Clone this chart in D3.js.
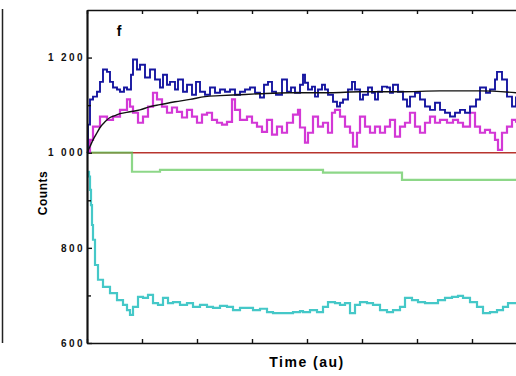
<!DOCTYPE html>
<html><head><meta charset="utf-8">
<script src="https://cdn.jsdelivr.net/npm/d3@7"></script>
<style>
body{margin:0;background:#fff;}
svg{display:block;}
text{font-family:"Liberation Sans",Arial,sans-serif;}
</style></head>
<body>
<svg id="c" width="516" height="376"></svg>
<script>
// ---- data (time in au, counts) ----
const yTickValues = [600, 800, 1000, 1200];
const yTickLabels = ["600", "800", "1 000", "1 200"];
const yMinorTicks = [700, 900, 1100];
const xTickValues = [0, 55, 110, 165, 220, 275, 330, 385, 440];

const redT = [0, 429];
const redV = [1000, 1000];

const greenT = [0, 45, 73, 236, 315, 429];
const greenV = [1000, 960, 964, 958, 943, 943];

const blackT = [0,3,6,10,13,18,23,28,33,43,53,63,73,88,103,118,133,153,173,203,243,273,313,353,393,429];
const blackV = [1000,1013,1027,1042,1053,1065,1074,1078,1082,1086,1090,1097,1101,1107,1112,1118,1120,1122,1124,1126,1126,1128,1128,1130,1130,1126];

const blueT = [0,1,3,6,10,13,16,20,23,26,30,33,37,40,44,46,50,53,58,63,68,73,76,80,83,88,91,96,100,105,109,113,118,123,128,133,138,143,148,153,158,163,168,173,177,181,185,189,195,200,204,208,213,216,218,221,225,228,231,235,238,241,246,250,253,256,261,265,268,273,276,281,285,288,291,295,300,303,306,311,316,320,323,328,333,338,343,348,353,358,363,368,373,378,383,389,393,399,403,408,410,415,420,425,429];
const blueV = [1000,1059,1112,1118,1128,1149,1175,1170,1149,1137,1133,1128,1137,1133,1164,1196,1175,1185,1158,1175,1154,1137,1164,1143,1149,1133,1154,1128,1143,1122,1149,1128,1122,1137,1126,1133,1128,1133,1122,1128,1133,1137,1126,1116,1143,1149,1128,1122,1154,1128,1137,1126,1143,1164,1147,1133,1139,1118,1133,1143,1133,1122,1107,1097,1105,1112,1133,1149,1133,1112,1122,1137,1126,1112,1128,1139,1137,1126,1143,1128,1112,1097,1118,1126,1112,1097,1090,1105,1090,1084,1076,1084,1090,1084,1097,1112,1137,1126,1133,1154,1170,1154,1118,1097,1118];

const magentaT = [0,3,6,13,20,26,33,40,43,46,51,56,61,66,70,75,80,85,90,95,100,105,110,115,120,125,130,135,140,145,148,153,160,165,170,175,180,185,190,195,200,206,211,213,218,221,226,231,236,241,245,248,253,258,263,266,270,273,278,283,288,293,298,303,308,313,318,323,328,333,338,343,348,353,360,366,371,376,383,388,393,398,403,408,411,415,420,425,429];
const magentaV = [1000,1027,1055,1076,1069,1076,1090,1112,1097,1084,1063,1076,1097,1126,1112,1097,1084,1095,1086,1074,1090,1076,1063,1080,1084,1069,1063,1059,1065,1112,1090,1069,1076,1063,1055,1044,1069,1038,1055,1042,1063,1080,1090,1053,1021,1042,1076,1055,1063,1042,1084,1090,1076,1055,1042,1013,1042,1076,1055,1042,1055,1042,1055,1069,1034,1055,1063,1084,1055,1042,1063,1076,1063,1069,1063,1069,1063,1055,1084,1055,1042,1048,1042,1027,1006,1042,1055,1069,1063];

const cyanT = [1,2,3,4,5,6,8,11,16,23,30,36,40,43,46,51,56,61,66,71,76,81,86,93,100,106,113,120,126,133,140,146,153,160,166,173,180,186,193,200,206,213,216,223,230,236,241,248,253,258,263,268,273,280,286,293,300,306,313,318,325,331,338,345,351,358,365,371,376,383,390,396,403,410,416,421,429];
const cyanV = [960,950,922,890,848,817,764,733,718,705,690,680,669,659,676,697,695,701,684,680,695,684,686,680,684,676,680,676,674,678,676,669,674,674,669,672,665,663,663,663,665,667,665,669,665,676,686,684,680,684,663,680,686,684,680,669,665,669,676,695,690,686,684,684,690,695,697,699,695,686,676,663,665,669,676,684,684];

// ---- chart ----
const svg = d3.select("#c");
const x = d3.scaleLinear().domain([0, 440]).range([87, 527]);
const y = d3.scaleLinear().domain([600, 1300]).range([343, 10]);

// partial left neighbouring panel edge
svg.append("line").attr("x1", 2.5).attr("x2", 2.5).attr("y1", y(1302)).attr("y2", y(600))
  .attr("stroke", "#222").attr("stroke-width", 1.5);

const step = d3.line().x(d => x(d[0])).y(d => y(d[1])).curve(d3.curveStepAfter);
const smooth = d3.line().x(d => x(d[0])).y(d => y(d[1])).curve(d3.curveMonotoneX);
const zip = (T, V) => T.map((t, i) => [t, V[i]]);

const plot = svg.append("g");
plot.append("path").attr("d", step(zip(redT, redV))).attr("fill", "none")
  .attr("stroke", "#b8352e").attr("stroke-width", 1.6);
plot.append("path").attr("d", step(zip(greenT, greenV))).attr("fill", "none")
  .attr("stroke", "#5cc655").attr("stroke-width", 2.2).attr("stroke-opacity", 0.7);
plot.append("path").attr("d", step(zip(cyanT, cyanV))).attr("fill", "none")
  .attr("stroke", "#45c8c8").attr("stroke-width", 2.2);
plot.append("path").attr("d", step(zip(magentaT, magentaV))).attr("fill", "none")
  .attr("stroke", "#d338d6").attr("stroke-width", 2.2);
plot.append("path").attr("d", step(zip(blueT, blueV))).attr("fill", "none")
  .attr("stroke", "#1616a0").attr("stroke-width", 1.9);
plot.append("path").attr("d", smooth(zip(blackT, blackV))).attr("fill", "none")
  .attr("stroke", "#111").attr("stroke-width", 1.4);

// axes
const styleAxis = g => {
  g.select(".domain").attr("stroke", "#111").attr("stroke-width", 1.7);
  g.selectAll(".tick line").attr("stroke", "#111").attr("stroke-width", 1.4);
};
svg.append("g").attr("transform", "translate(87,0)")
  .call(d3.axisLeft(y).tickValues(yMinorTicks).tickSizeInner(-4).tickSizeOuter(0).tickFormat(""))
  .call(styleAxis);
const yAx = svg.append("g").attr("transform", "translate(87,0)")
  .call(d3.axisLeft(y).tickValues(yTickValues).tickSizeInner(-5).tickSizeOuter(0)
    .tickPadding(2).tickFormat((d, i) => yTickLabels[i]))
  .call(styleAxis);
yAx.selectAll("text").attr("font-size", 10).attr("font-weight", "bold")
  .attr("letter-spacing", "2.4px").attr("fill", "#111");

svg.append("g").attr("transform", "translate(0,10)")
  .call(d3.axisTop(x).tickValues(xTickValues).tickSizeInner(-4).tickSizeOuter(0).tickFormat(""))
  .call(styleAxis);
svg.append("g").attr("transform", "translate(0,343)")
  .call(d3.axisBottom(x).tickValues(xTickValues).tickSizeInner(-4).tickSizeOuter(0).tickFormat(""))
  .call(styleAxis);

// labels
svg.append("text").attr("x", 119).attr("y", 36).attr("text-anchor", "middle")
  .attr("font-size", 14).attr("font-weight", "bold").text("f");
svg.append("text").attr("transform", "translate(47,193) rotate(-90)").attr("text-anchor", "middle")
  .attr("font-size", 12).attr("font-weight", "bold").attr("letter-spacing", "0.5px").text("Counts");
svg.append("text").attr("x", 307).attr("y", 367).attr("text-anchor", "middle")
  .attr("font-size", 14).attr("font-weight", "bold").attr("letter-spacing", "1.5px").text("Time (au)");
</script>
</body></html>
